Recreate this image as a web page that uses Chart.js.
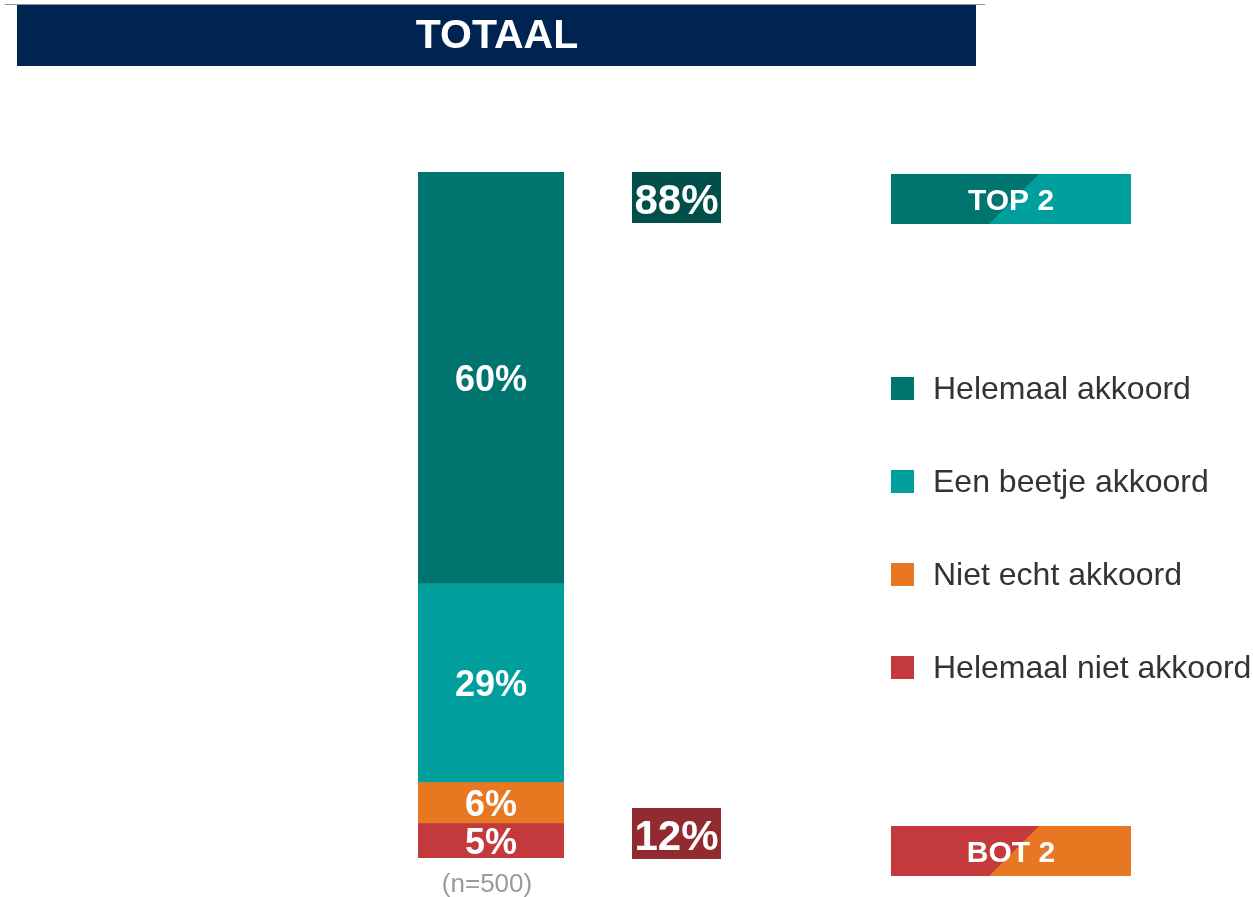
<!DOCTYPE html>
<html>
<head>
<meta charset="utf-8">
<script src="https://cdn.jsdelivr.net/npm/chart.js@4"></script>
<style>
    body { margin: 0; background: #fff; }
    #chart { display: block; }
</style>
</head>
<body>
<canvas id="chart" width="1253" height="897"></canvas>
<script>
// data, bottom of the stack first
const categories = ['Totaal'];
const seriesNames = ['Helemaal niet akkoord', 'Niet echt akkoord', 'Een beetje akkoord', 'Helemaal akkoord'];
const seriesValues = [5, 6, 29, 60];
const seriesColors = ['#C4393C', '#E87722', '#009E9C', '#00756F'];
const summaryNames = ['TOP 2', 'BOT 2'];
const summaryValues = [88, 12];
const title = 'TOTAAL';
const sampleNote = '(n=500)';

const FONT = '"Liberation Sans", Arial, sans-serif';

function splitBox(ctx, x, y, w, h, splitX, left, right) {
    ctx.fillStyle = right;
    ctx.fillRect(x, y, w, h);
    ctx.fillStyle = left;
    ctx.beginPath();
    ctx.moveTo(x, y);
    ctx.lineTo(splitX + h / 2, y);
    ctx.lineTo(splitX - h / 2, y + h);
    ctx.lineTo(x, y + h);
    ctx.closePath();
    ctx.fill();
}

const extras = {
    id: 'extras',
    afterDraw(chart) {
        const ctx = chart.ctx;
        const yScale = chart.scales.y;
        ctx.save();

        // header band
        ctx.fillStyle = '#8a94a6';
        ctx.fillRect(5, 4, 980, 1);
        ctx.fillStyle = '#002451';
        ctx.fillRect(17, 5, 959, 61);
        ctx.fillStyle = '#fff';
        ctx.font = 'bold 41px ' + FONT;
        ctx.textAlign = 'center';
        ctx.textBaseline = 'middle';
        ctx.fillText(title, 497, 37);

        // segment labels
        ctx.font = 'bold 36px ' + FONT;
        chart.data.datasets.forEach(function (ds, i) {
            const bar = chart.getDatasetMeta(i).data[0];
            ctx.fillStyle = '#fff';
            ctx.fillText(ds.data[0] + '%', bar.x, (bar.y + bar.base) / 2 + 3);
        });

        // summary boxes next to the bar
        const topY = yScale.getPixelForValue(100);
        const botY = yScale.getPixelForValue(0);
        ctx.fillStyle = '#004F4A';
        ctx.fillRect(632, topY, 89, 51);
        ctx.fillStyle = '#922B2F';
        ctx.fillRect(632, botY - 50, 89, 51);
        ctx.fillStyle = '#fff';
        ctx.font = 'bold 42px ' + FONT;
        ctx.fillText(summaryValues[0] + '%', 676.5, topY + 30);
        ctx.fillText(summaryValues[1] + '%', 676.5, botY - 20);

        // TOP 2 / BOT 2 tags
        splitBox(ctx, 891, 174, 240, 50, 1014, '#00756F', '#009E9C');
        splitBox(ctx, 891, 826, 240, 50, 1014, '#C4393C', '#E87722');
        ctx.fillStyle = '#fff';
        ctx.font = 'bold 30px ' + FONT;
        ctx.fillText(summaryNames[0], 1011, 202);
        ctx.fillText(summaryNames[1], 1011, 854);

        // legend, top of the stack first
        ctx.textAlign = 'left';
        ctx.font = '32px ' + FONT;
        for (let k = 0; k < seriesNames.length; k++) {
            const i = seriesNames.length - 1 - k;
            const cy = 388 + k * 93;
            ctx.fillStyle = seriesColors[i];
            ctx.fillRect(891, cy - 11, 23, 23);
            ctx.fillStyle = '#333';
            ctx.fillText(seriesNames[i], 933, cy + 2);
        }

        // sample size
        ctx.textAlign = 'center';
        ctx.fillStyle = '#9a9a9a';
        ctx.font = '26px ' + FONT;
        ctx.fillText(sampleNote, 487, botY + 27);

        ctx.restore();
    }
};

let myChart = new Chart(document.getElementById('chart'), {
    type: 'bar',
    data: {
        labels: categories,
        datasets: seriesNames.map(function (name, i) {
            return {
                label: name,
                data: [seriesValues[i]],
                backgroundColor: seriesColors[i],
                borderWidth: 0,
                barPercentage: 1,
                categoryPercentage: 1
            };
        })
    },
    options: {
        responsive: false,
        devicePixelRatio: 1,
        animation: false,
        layout: { padding: { left: 418, right: 689, top: 172, bottom: 39 } },
        plugins: {
            legend: { display: false },
            tooltip: { enabled: false }
        },
        scales: {
            x: { stacked: true, display: false },
            y: { stacked: true, display: false, min: 0, max: 100 }
        }
    },
    plugins: [extras]
});
</script>
</body>
</html>
